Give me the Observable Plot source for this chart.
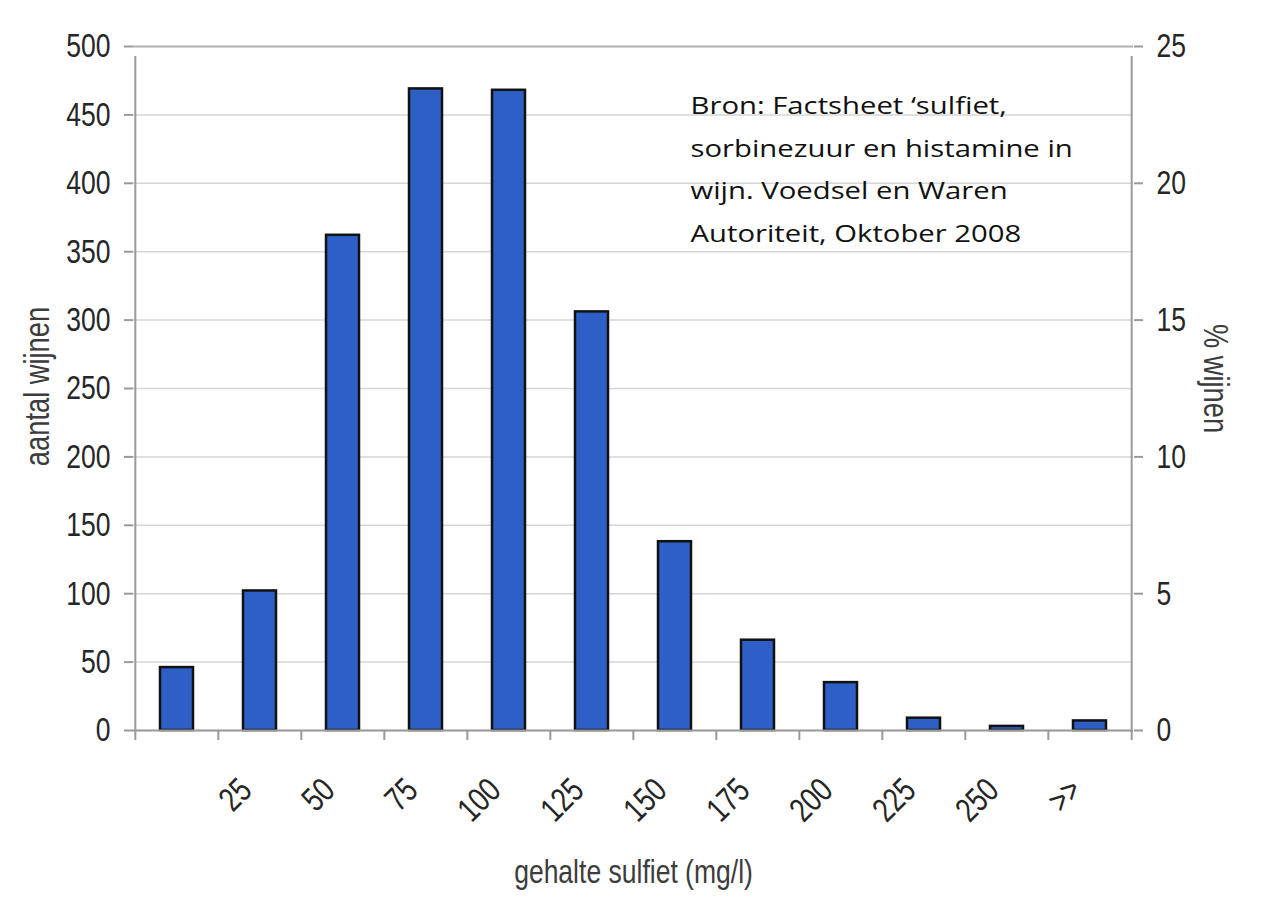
<!DOCTYPE html>
<html><head><meta charset="utf-8">
<script src="https://cdn.jsdelivr.net/npm/d3@7"></script>
<script src="https://cdn.jsdelivr.net/npm/@observablehq/plot@0.6"></script>
<style>body{margin:0;background:#fff}</style>
</head><body><div id="chart"></div>
<script>
const categories = ["", "25", "50", "75", "100", "125", "150", "175", "200", "225", "250", ">>"];
const counts = [46, 102, 362, 469, 468, 306, 138, 66, 35, 9, 3, 7];
const countTicks = [0, 50, 100, 150, 200, 250, 300, 350, 400, 450, 500];
const percentTicks = [0, 5, 10, 15, 20, 25];
const countsPerPercent = 20;
const yLabel = "aantal wijnen";
const y2Label = "% wijnen";
const xLabel = "gehalte sulfiet (mg/l)";
const sourceNote = "Bron: Factsheet \u2018sulfiet,\nsorbinezuur en histamine in\nwijn. Voedsel en Waren\nAutoriteit, Oktober 2008";

const data = categories.map((c, i) => ({cat: c, count: counts[i]}));

const W = 1270, H = 922, ML = 133, MR = 137, MT = 46, MB = 192;
const step = (W - ML - MR) / categories.length;
const mainFont = "'Liberation Sans', Arial, sans-serif";
const noteFont = "'Open Sans', sans-serif";
const axisGray = "#9a9a9a";
const textCol = "#262626";
const labelCol = "#3c3c3c";
const FS = 34;

const chart = Plot.plot({
  width: W, height: H,
  marginLeft: ML, marginRight: MR, marginTop: MT, marginBottom: MB,
  style: {fontFamily: mainFont, fontSize: FS + "px", background: "#fff"},
  x: {type: "band", domain: categories, paddingInner: 0.6, paddingOuter: 0.3, axis: null},
  y: {domain: [0, 500], axis: null},
  marks: [
    Plot.gridY(countTicks, {stroke: "#d6d6d6", strokeOpacity: 1, strokeWidth: 1.5}),
    Plot.ruleY([500], {stroke: "#b5b5b5", strokeWidth: 2}),
    Plot.barY(data, {x: "cat", y: "count", fill: "#2d5fc6", stroke: "#111", strokeWidth: 2.5}),
    Plot.ruleY([0], {stroke: axisGray, strokeWidth: 2}),
    Plot.ruleX(categories, {x: d => d, y1: 0, y2: 0, dx: -step / 2, insetBottom: -10, stroke: axisGray, strokeWidth: 2}),
    Plot.ruleX([categories[categories.length - 1]], {x: d => d, y1: 0, y2: 0, dx: step / 2, insetBottom: -10, stroke: axisGray, strokeWidth: 2}),
    Plot.ruleX([categories[0]], {x: d => d, y1: 0, y2: 500, dx: -step / 2, insetBottom: -10, stroke: axisGray, strokeWidth: 2}),
    Plot.ruleX([categories[categories.length - 1]], {x: d => d, y1: 0, y2: 500, dx: step / 2, insetBottom: -10, stroke: axisGray, strokeWidth: 2}),
    Plot.axisY(countTicks, {anchor: "left", tickSize: 9, tickPadding: 14, stroke: axisGray, strokeWidth: 2, fill: textCol, fontSize: FS, label: null}),
    Plot.axisY(percentTicks.map(p => p * countsPerPercent), {anchor: "right", tickSize: 9, tickPadding: 14, tickFormat: d => d / countsPerPercent, stroke: axisGray, strokeWidth: 2, fill: textCol, fontSize: FS, label: null}),
    Plot.text(data.filter(d => d.cat !== ""), {x: "cat", y: 0, text: "cat", rotate: -45, textAnchor: "end", dx: -14, dy: 54, fontSize: FS, fill: textCol}),
    Plot.text([yLabel], {text: d => d, frameAnchor: "left", textAnchor: "middle", dx: -96, dy: -2, rotate: -90, fontSize: 35, fill: labelCol}),
    Plot.text([y2Label], {text: d => d, frameAnchor: "right", textAnchor: "middle", dx: 82, dy: -10, rotate: 90, fontSize: 35, fill: labelCol}),
    Plot.text([xLabel], {text: d => d, frameAnchor: "bottom", lineAnchor: "middle", dy: 142, fontSize: 34, fill: labelCol}),
    Plot.text([sourceNote], {text: d => d, frameAnchor: "top-left", dx: 557, dy: 37, lineAnchor: "top", textAnchor: "start", lineHeight: 1.78, fontFamily: noteFont, fontSize: 24, fill: "#111"})
  ]
});

// compress the Arial-like chart text horizontally (reference uses a condensed rendering),
// and widen the source note slightly, each about its own anchor point
chart.querySelectorAll("text").forEach(t => {
  const isNote = t.closest("g[font-family]") !== null;
  const s = isNote ? "scale(1.22,1)" : "scale(0.78,1)";
  const tr = t.getAttribute("transform");
  if (tr !== null) {
    t.setAttribute("transform", tr + " " + s);
  } else {
    const x = +(t.getAttribute("x") || 0), y = +(t.getAttribute("y") || 0);
    t.removeAttribute("x"); t.removeAttribute("y");
    t.setAttribute("transform", `translate(${x},${y}) ${s}`);
  }
});
document.getElementById("chart").appendChild(chart);
</script>
</body></html>
